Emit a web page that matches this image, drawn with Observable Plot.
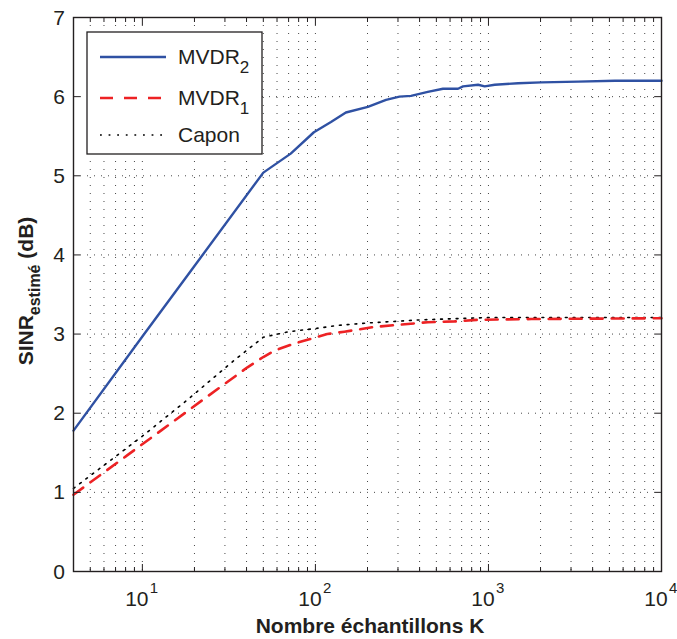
<!DOCTYPE html>
<html><head><meta charset="utf-8">
<script src="https://cdn.jsdelivr.net/npm/d3@7"></script>
<script src="https://cdn.jsdelivr.net/npm/@observablehq/plot@0.6"></script>
<style>
body{margin:0;background:#fff;}
#wrap{position:relative;width:677px;height:639px;}
</style></head><body><div id="wrap"></div>
<script>
// ---- data ----
const K_mvdr2 = [4, 10, 20, 50, 72, 98, 123, 150, 201, 256, 306, 357, 446, 546, 667, 713, 871, 951, 1087, 1483, 2024, 3300, 5380, 10000];
const sinr_mvdr2 = [1.78, 2.97, 3.86, 5.04, 5.28, 5.55, 5.68, 5.80, 5.87, 5.96, 6.00, 6.01, 6.06, 6.10, 6.10, 6.13, 6.15, 6.13, 6.15, 6.17, 6.18, 6.19, 6.20, 6.20];

const K_mvdr1 = [4, 8.2, 12.8, 22.7, 40.5, 50, 57.8, 75.5, 117, 147, 219, 313, 446, 637, 871, 1770, 10000];
const sinr_mvdr1 = [0.97, 1.47, 1.78, 2.18, 2.58, 2.71, 2.79, 2.88, 3.00, 3.03, 3.09, 3.12, 3.15, 3.16, 3.18, 3.19, 3.20];

const K_capon = [4, 10, 18, 34, 50, 70, 100, 135, 200, 408, 1047, 10000];
const sinr_capon = [1.05, 1.71, 2.16, 2.67, 2.96, 3.03, 3.07, 3.11, 3.14, 3.18, 3.21, 3.21];

const xMajor = [10, 100, 1000, 10000];
const xMinor = [4,5,6,7,8,9, 20,30,40,50,60,70,80,90, 200,300,400,500,600,700,800,900, 2000,3000,4000,5000,6000,7000,8000,9000];
const yTicks = [0,1,2,3,4,5,6,7];
const xExponents = ["1","2","3","4"];

const FONT = '"Liberation Sans", Arial, Helvetica, sans-serif';
const BLUE = "#2f51a3", RED = "#ed2224", INK = "#231f20";

const idx = a => a.map((_, i) => i);

const chart = Plot.plot({
  width: 677, height: 639,
  marginLeft: 73, marginRight: 16, marginTop: 17, marginBottom: 68,
  style: {fontFamily: FONT, background: "#fff", color: INK},
  x: {type: "log", domain: [4, 10000]},
  y: {domain: [0, 7]},
  marks: [
    Plot.ruleX(xMajor.concat(xMinor), {stroke: "#333", strokeWidth: 0.9, strokeDasharray: "1,7"}),
    Plot.ruleY(yTicks, {stroke: "#333", strokeWidth: 0.9, strokeDasharray: "1,6"}),
    Plot.line(idx(K_capon), {x: K_capon, y: sinr_capon, stroke: "#000", strokeWidth: 1.6, strokeDasharray: "1.8,6"}),
    Plot.line(idx(K_mvdr1), {x: K_mvdr1, y: sinr_mvdr1, stroke: RED, strokeWidth: 2.6, strokeDasharray: "12,9"}),
    Plot.line(idx(K_mvdr2), {x: K_mvdr2, y: sinr_mvdr2, stroke: BLUE, strokeWidth: 2.4}),
    Plot.frame({stroke: INK, strokeWidth: 1.4}),
    Plot.axisX(xMajor, {anchor: "bottom", tickSize: -7, tickFormat: () => "", label: null, stroke: INK}),
    Plot.axisX(xMinor, {anchor: "bottom", tickSize: -4, tickFormat: () => "", label: null, stroke: INK}),
    Plot.axisX(xMajor, {anchor: "top", tickSize: -7, tickFormat: () => "", label: null, stroke: INK}),
    Plot.axisX(xMinor, {anchor: "top", tickSize: -4, tickFormat: () => "", label: null, stroke: INK}),
    Plot.axisY(yTicks, {anchor: "left", tickSize: -7, tickFormat: () => "", label: null, stroke: INK}),
    Plot.axisY(yTicks, {anchor: "right", tickSize: -7, tickFormat: () => "", label: null, stroke: INK})
  ]
});
document.getElementById("wrap").appendChild(chart);

const svg = d3.select(chart);
const sx = chart.scale("x");
const sy = chart.scale("y");

// y tick labels
yTicks.forEach(v => {
  svg.append("text").attr("x", 65).attr("y", sy.apply(v) + 7.5)
    .attr("text-anchor", "end").attr("font-family", FONT).attr("font-size", 21).attr("fill", INK)
    .text(String(v));
});

// x tick labels 10^k
xMajor.forEach((v, i) => {
  const px = sx.apply(v);
  svg.append("text").attr("x", px - 5).attr("y", 606)
    .attr("text-anchor", "middle").attr("font-family", FONT).attr("font-size", 21).attr("fill", INK)
    .text("10");
  svg.append("text").attr("x", px + 8).attr("y", 593)
    .attr("text-anchor", "start").attr("font-family", FONT).attr("font-size", 15).attr("fill", INK)
    .text(xExponents[i]);
});

// x title
svg.append("text").attr("x", 370).attr("y", 633).attr("text-anchor", "middle")
  .attr("font-family", FONT).attr("font-size", 21).attr("font-weight", "bold").attr("fill", INK)
  .text("Nombre échantillons K");

// y title
const yt = svg.append("text").attr("transform", "translate(33,291) rotate(-90)").attr("text-anchor", "middle")
  .attr("font-family", FONT).attr("font-size", 21).attr("font-weight", "bold").attr("fill", INK);
yt.append("tspan").text("SINR");
yt.append("tspan").attr("font-size", 16).attr("dy", 7).text("estimé");
yt.append("tspan").attr("dy", -7).text(" (dB)");

// legend
const lg = svg.append("g");
lg.append("rect").attr("x", 87).attr("y", 32).attr("width", 175).attr("height", 122)
  .attr("fill", "#fff").attr("stroke", INK).attr("stroke-width", 1.3);
const entries = [
  {name: "MVDR", sub: "2", stroke: BLUE, w: 2.4, dash: null, y: 57},
  {name: "MVDR", sub: "1", stroke: RED, w: 2.6, dash: "13,11", y: 98},
  {name: "Capon", sub: "", stroke: "#000", w: 1.6, dash: "1.8,6.8", y: 135}
];
entries.forEach(e => {
  const l = lg.append("line").attr("x1", 100).attr("x2", 166).attr("y1", e.y).attr("y2", e.y)
    .attr("stroke", e.stroke).attr("stroke-width", e.w);
  if (e.dash) l.attr("stroke-dasharray", e.dash);
  const t = lg.append("text").attr("x", 178).attr("y", e.y + 7).attr("text-anchor", "start")
    .attr("font-family", FONT).attr("font-size", 21).attr("fill", INK);
  t.append("tspan").text(e.name);
  if (e.sub) t.append("tspan").attr("font-size", 17).attr("dy", 9).text(e.sub);
});
</script>
</body></html>
